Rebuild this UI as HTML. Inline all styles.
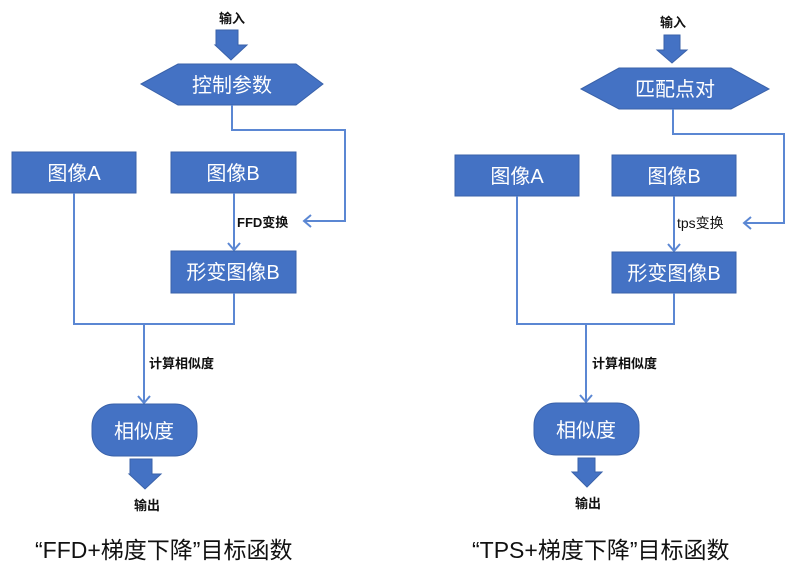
<!DOCTYPE html>
<html><head><meta charset="utf-8"><style>
html,body{margin:0;padding:0;background:#fff;}
svg{display:block;}
text{font-family:"Liberation Sans","Noto Sans CJK SC",sans-serif;}
.w{fill:#fff;font-size:20px;text-anchor:middle;}
.b{fill:#111;font-size:13px;font-weight:bold;}
.c{fill:#111;font-size:23px;}
.box{fill:#4472C4;stroke:#3A62AA;stroke-width:1;}
.ln{fill:none;stroke:#5B87D3;stroke-width:2;}
.ah{fill:none;stroke:#5B87D3;stroke-width:2;}
</style></head><body>
<svg width="795" height="576" viewBox="0 0 795 576" xmlns="http://www.w3.org/2000/svg">
<!-- LEFT -->
<text class="b" x="232" y="23" text-anchor="middle">输入</text>
<polygon class="box" points="216,30 238,30 238,45 247,45 231,60 215,45 216,45"/>
<polygon class="box" points="141,84 178,64 296,64 323,84 296,105 178,105"/>
<text class="w" x="232" y="92">控制参数</text>
<polyline class="ln" points="232,105 232,130 345,130 345,221 304,221"/>
<polyline class="ah" points="311,215 304,221 311,227"/>
<rect class="box" x="12" y="152" width="124" height="41"/>
<text class="w" x="74" y="180">图像A</text>
<rect class="box" x="171" y="152" width="125" height="41"/>
<text class="w" x="233" y="180">图像B</text>
<text class="b" x="237" y="227">FFD变换</text>
<line class="ln" x1="234" y1="193" x2="234" y2="250"/>
<polyline class="ah" points="228,243 234,250 240,243"/>
<rect class="box" x="171" y="251" width="125" height="42"/>
<text class="w" x="233" y="279">形变图像B</text>
<polyline class="ln" points="74,193 74,324 234,324 234,293"/>
<line class="ln" x1="144" y1="324" x2="144" y2="403"/>
<polyline class="ah" points="138,396 144,403 150,396"/>
<text class="b" x="149" y="368">计算相似度</text>
<rect class="box" x="92" y="404" width="105" height="52" rx="22" ry="22"/>
<text class="w" x="144" y="438">相似度</text>
<polygon class="box" points="130,459 152,459 152,474 161,474 145,489 129,474 130,474"/>
<text class="b" x="147" y="510" text-anchor="middle">输出</text>
<text class="c" x="35" y="558">“FFD+梯度下降”目标函数</text>

<!-- RIGHT -->
<text class="b" x="673" y="27" text-anchor="middle">输入</text>
<polygon class="box" points="664,35 680,35 680,50 687,50 672,63 657,50 664,50"/>
<polygon class="box" points="581,89 619,68 731,68 769,89 731,109 619,109"/>
<text class="w" x="675" y="96">匹配点对</text>
<polyline class="ln" points="673,109 673,134 784,134 784,223 744,223"/>
<polyline class="ah" points="751,217 744,223 751,229"/>
<rect class="box" x="455" y="155" width="124" height="41"/>
<text class="w" x="517" y="183">图像A</text>
<rect class="box" x="612" y="155" width="124" height="41"/>
<text class="w" x="674" y="183">图像B</text>
<text class="b" x="677" y="228" style="font-weight:normal;font-size:14px">tps变换</text>
<line class="ln" x1="674" y1="196" x2="674" y2="251"/>
<polyline class="ah" points="668,244 674,251 680,244"/>
<rect class="box" x="612" y="252" width="124" height="41"/>
<text class="w" x="674" y="280">形变图像B</text>
<polyline class="ln" points="517,196 517,324 674,324 674,293"/>
<line class="ln" x1="586" y1="324" x2="586" y2="402"/>
<polyline class="ah" points="580,395 586,402 592,395"/>
<text class="b" x="592" y="368">计算相似度</text>
<rect class="box" x="534" y="403" width="105" height="52" rx="22" ry="22"/>
<text class="w" x="586" y="437">相似度</text>
<polygon class="box" points="578,458 595,458 595,472 602,472 587,487 572,472 578,472"/>
<text class="b" x="588" y="508" text-anchor="middle">输出</text>
<text class="c" x="472" y="558">“TPS+梯度下降”目标函数</text>
</svg>
</body></html>
